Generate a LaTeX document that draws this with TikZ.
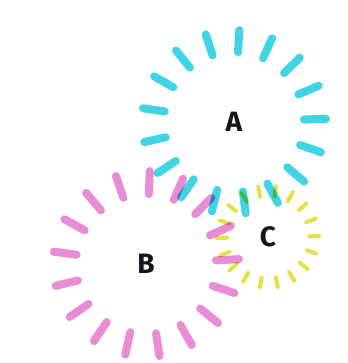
\documentclass[tikz,border=0pt]{standalone}
\usepackage{fontspec}
\usetikzlibrary{calc}
\setmainfont{Fira Sans}
\definecolor{ringcyan}{RGB}{64,212,228}
\definecolor{ringpink}{RGB}{232,140,214}
\definecolor{ringyellow}{RGB}{230,224,72}
\definecolor{labelink}{RGB}{20,20,28}
\tikzset{
  bigdash/.style={line width=8pt, line cap=round},
  smalldash/.style={line width=4pt, line cap=round},
  ringlabel/.style={text=labelink, font=\fontsize{28}{30}\selectfont\bfseries, inner sep=0pt}
}
\begin{document}
\begin{tikzpicture}[x=1pt,y=1pt]
\useasboundingbox (0,0) rectangle (347,363);
\fill[white] (0,0) rectangle (347,363);
\coordinate (ca) at (234,241);
\coordinate (cb) at (146,99);
\coordinate (cc) at (268,126);
% B ring (pink)
\foreach \i in {0,...,16}{
  \pgfmathsetmacro{\ang}{3+\i*360/17}
  \draw[bigdash, ringpink] ($(cb)+(\ang:70)$) -- ($(cb)+(\ang:93)$);
}
% A ring (cyan)
\begin{scope}[blend mode=multiply]
\foreach \i in {0,...,16}{
  \pgfmathsetmacro{\ang}{2+\i*360/17}
  \draw[bigdash, ringcyan] ($(ca)+(\ang:70)$) -- ($(ca)+(\ang:92)$);
}
% C ring (yellow)
\foreach \i in {0,...,17}{
  \pgfmathsetmacro{\ang}{1+\i*20}
  \draw[smalldash, ringyellow] ($(cc)+(\ang:41)$) -- ($(cc)+(\ang:51)$);
}
\end{scope}
\node[ringlabel] (la) at (ca) {A};
\node[ringlabel] (lb) at (cb) {B};
\node[ringlabel] (lc) at (cc) {C};
\end{tikzpicture}
\end{document}
